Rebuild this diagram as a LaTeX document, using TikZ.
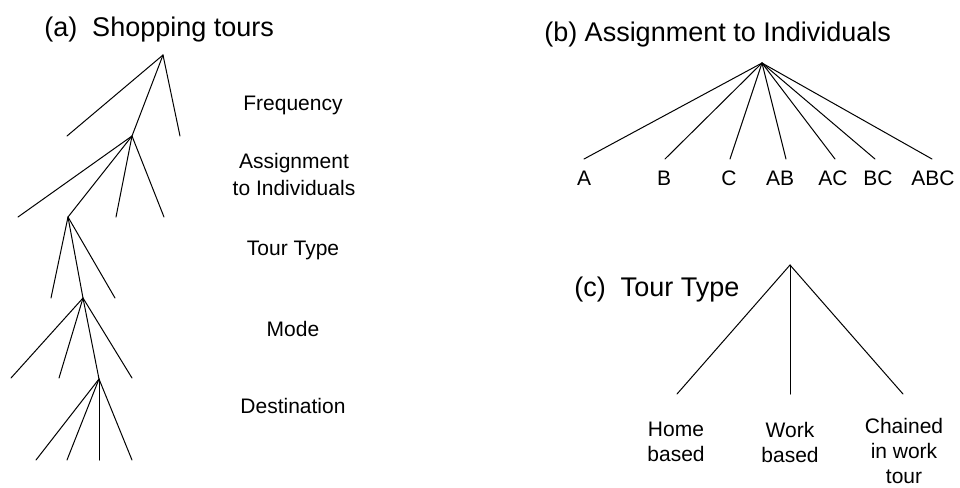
\documentclass[tikz,border=0pt]{standalone}
\usepackage{fontspec}
\setmainfont{Liberation Sans}
\tikzset{
    branch/.style={line width=0.75pt, line cap=round},
    title/.style={font=\fontsize{20.25}{24}\selectfont, inner sep=0pt, anchor=base west},
    level/.style={font=\fontsize{15.75}{20.25}\selectfont, inner sep=0pt, anchor=base},
    leaf/.style={font=\fontsize{15.75}{18.75}\selectfont, inner sep=0pt, anchor=base},
    choice/.style={font=\fontsize{15.75}{18.75}\selectfont, inner sep=0pt, anchor=north, align=center}
}
\begin{document}
\begin{tikzpicture}[x=0.75pt, y=-0.75pt]
    \useasboundingbox (0,0) rectangle (960,487);

    % (a) shopping tours tree
    \coordinate (a0) at (163,55);
    \coordinate (a1l) at (67,136);
    \coordinate (a1) at (132,136);
    \coordinate (a1r) at (180,136);
    \coordinate (a2l) at (18,217);
    \coordinate (a2) at (68,217);
    \coordinate (a2m) at (116,217);
    \coordinate (a2r) at (164,217);
    \coordinate (a3l) at (51,298);
    \coordinate (a3) at (83,298);
    \coordinate (a3r) at (115,298);
    \coordinate (a4l) at (11,378);
    \coordinate (a4m) at (59,378);
    \coordinate (a4) at (99,379);
    \coordinate (a4r) at (132,378);
    \coordinate (a5a) at (36,460);
    \coordinate (a5b) at (67,460);
    \coordinate (a5c) at (99,460);
    \coordinate (a5d) at (132,460);

    \draw[branch] (a0) -- (a1l);
    \draw[branch] (a0) -- (a1);
    \draw[branch] (a0) -- (a1r);
    \draw[branch] (a1) -- (a2l);
    \draw[branch] (a1) -- (a2);
    \draw[branch] (a1) -- (a2m);
    \draw[branch] (a1) -- (a2r);
    \draw[branch] (a2) -- (a3l);
    \draw[branch] (a2) -- (a3);
    \draw[branch] (a2) -- (a3r);
    \draw[branch] (a3) -- (a4l);
    \draw[branch] (a3) -- (a4m);
    \draw[branch] (a3) -- (a4);
    \draw[branch] (a3) -- (a4r);
    \draw[branch] (a4) -- (a5a);
    \draw[branch] (a4) -- (a5b);
    \draw[branch] (a4) -- (a5c);
    \draw[branch] (a4) -- (a5d);

    \node[title] (titleA) at (44,36) {(a)~~Shopping tours};
    \node[level] (freq) at (293,110) {Frequency};
    \node[level, anchor=north, align=center] (assign) at (294,153) {Assignment\\to Individuals};
    \node[level] (tourtype) at (293,255) {Tour Type};
    \node[level] (mode) at (293,336) {Mode};
    \node[level] (dest) at (293,413) {Destination};

    % (b) assignment to individuals
    \coordinate (b0) at (762,63);
    \coordinate (bA) at (584,159);
    \coordinate (bB) at (665,159);
    \coordinate (bC) at (730,159);
    \coordinate (bAB) at (786,159);
    \coordinate (bAC) at (835,159);
    \coordinate (bBC) at (875,159);
    \coordinate (bABC) at (932,159);

    \draw[branch] (b0) -- (bA);
    \draw[branch] (b0) -- (bB);
    \draw[branch] (b0) -- (bC);
    \draw[branch] (b0) -- (bAB);
    \draw[branch] (b0) -- (bAC);
    \draw[branch] (b0) -- (bBC);
    \draw[branch] (b0) -- (bABC);

    \node[title] (titleB) at (544,41) {(b) Assignment to Individuals};
    \node[leaf] (labA) at (584,185) {A};
    \node[leaf] (labB) at (664,185) {B};
    \node[leaf] (labC) at (729,185) {C};
    \node[leaf] (labAB) at (780,185) {AB};
    \node[leaf] (labAC) at (833,185) {AC};
    \node[leaf] (labBC) at (878,185) {BC};
    \node[leaf] (labABC) at (933,185) {ABC};

    % (c) tour type
    \coordinate (c0) at (790,265);
    \coordinate (cHome) at (677,394);
    \coordinate (cWork) at (790,394);
    \coordinate (cChain) at (903,394);

    \draw[branch] (c0) -- (cHome);
    \draw[branch] (c0) -- (cWork);
    \draw[branch] (c0) -- (cChain);

    \node[title] (titleC) at (574,296) {(c)~~Tour Type};
    \node[choice] (home) at (676,422) {Home\\based};
    \node[choice] (work) at (790,422) {Work\\based};
    \node[choice] (chain) at (904,418) {Chained\\in work\\tour};
\end{tikzpicture}
\end{document}
